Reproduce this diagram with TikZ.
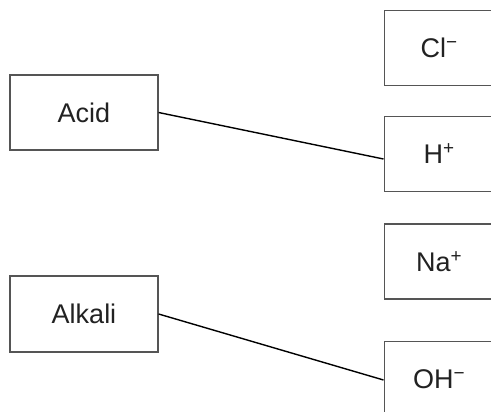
\documentclass[tikz,border=0pt]{standalone}
\usepackage{fontspec}
\setmainfont{Liberation Sans}
\definecolor{boxline}{HTML}{555555}
\definecolor{txt}{HTML}{222222}
\begin{document}
\begin{tikzpicture}[x=1pt,y=-1pt,
  box/.style={draw=boxline,line width=1.2pt,fill=white,minimum height=75pt,inner sep=0pt,
    text=txt,font=\fontsize{27}{31}\selectfont},
  lbox/.style={box,minimum width=148pt},
  rbox/.style={box,minimum width=120pt,text width=110pt,align=center},
  link/.style={draw=black,line width=1.4pt}]
\clip (0,0) rectangle (491,412);
\fill[white] (0,0) rectangle (491,412);
\node[lbox] (acid) at (84,112.5) {Acid};
\node[lbox,minimum height=76pt] (alkali) at (84,314) {Alkali};
\node[rbox,anchor=west] (cl) at (383.5,48) {Cl\textsuperscript{−}\hspace*{10pt}};
\node[rbox,anchor=west] (hplus) at (383.5,154) {H\textsuperscript{+}\hspace*{10pt}};
\node[rbox,anchor=west] (na) at (383.5,261.5) {Na\textsuperscript{+}\hspace*{10pt}};
\node[rbox,anchor=west] (oh) at (383.5,379) {OH\textsuperscript{−}\hspace*{10pt}};
\draw[link] (acid.east) -- ([yshift=-5pt]hplus.west);
\draw[link] (alkali.east) -- ([yshift=-1pt]oh.west);
\end{tikzpicture}
\end{document}
